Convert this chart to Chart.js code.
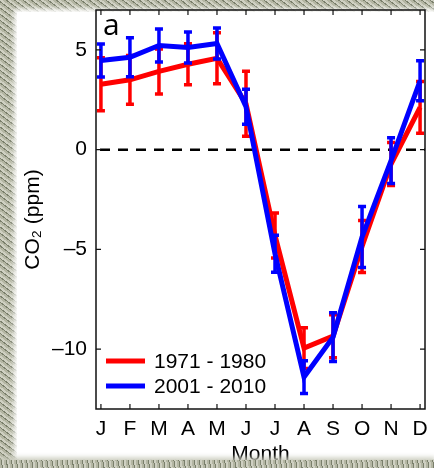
<!DOCTYPE html>
<html>
<head>
<meta charset="utf-8">
<script src="https://cdn.jsdelivr.net/npm/chart.js@4"></script>
<style>
  html, body { margin: 0; padding: 0; }
  body { background: #8e9180; }
  #wrap { position: relative; width: 434px; height: 468px; overflow: hidden;
    background: repeating-linear-gradient(37deg, #b4b6a3 0 2px, #7a7f6b 2px 3px, #cfd0c2 3px 5px); }
  #paper { position: absolute; left: 17px; top: 12px; right: 0; bottom: 9px; background: #fff;
    box-shadow: 0 0 5px 3px #fff; }
  #chart { position: absolute; left: 0; top: 0; }
  #edge { position: absolute; left: 0; right: 0; top: 460px; height: 8px;
    background: repeating-linear-gradient(80deg, #b4b6a3 0 2px, #7a7f6b 2px 3px, #cfd0c2 3px 5px);
    box-shadow: 0 -2px 4px 1px rgba(200,202,188,.8); }
</style>
</head>
<body>
<div id="wrap">
  <div id="paper"></div>
  <canvas id="chart" width="434" height="468"></canvas>
  <div id="edge"></div>
</div>
<script>
const months = ["J", "F", "M", "A", "M", "J", "J", "A", "S", "O", "N", "D"];
const yTicks = [5, 0, -5, -10];

const co2_1971 = [3.28, 3.5, 3.92, 4.28, 4.58, 2.3, -4.3, -9.95, -9.35, -4.85, -0.72, 2.12];
const err_1971 = [1.4, 1.3, 1.2, 1.1, 1.35, 1.7, 1.2, 1.1, 1.15, 1.38, 1.15, 1.37];
const co2_2001 = [4.47, 4.63, 5.22, 5.12, 5.32, 2.15, -5.22, -11.4, -9.4, -4.38, -0.55, 3.45];
const err_2001 = [0.9, 1.05, 0.9, 0.85, 0.85, 0.95, 1.0, 0.9, 1.3, 1.6, 1.22, 1.08];

const FONT = "'Liberation Sans', Arial, sans-serif";

const toPoints = (vals) => vals.map((v, i) => ({ x: i + 1, y: v }));

// error bars drawn with the dataset they belong to
const errorBars = {
    id: "errorBars",
    afterDatasetDraw(chart, args) {
        const ds = chart.data.datasets[args.index];
        const y = chart.scales.y;
        const ctx = chart.ctx;
        ctx.save();
        ctx.strokeStyle = ds.borderColor;
        ctx.lineWidth = 3.5;
        args.meta.data.forEach((pt, i) => {
            const v = ds.data[i].y, e = ds.errors[i];
            const top = y.getPixelForValue(v + e);
            const bot = y.getPixelForValue(v - e);
            ctx.beginPath();
            ctx.moveTo(pt.x, top);
            ctx.lineTo(pt.x, bot);
            ctx.moveTo(pt.x - 4, top + 1.5);
            ctx.lineTo(pt.x + 4, top + 1.5);
            ctx.moveTo(pt.x - 4, bot - 1.5);
            ctx.lineTo(pt.x + 4, bot - 1.5);
            ctx.stroke();
        });
        ctx.restore();
    },
};

// zero line, axes box with inward ticks, panel letter, y title and legend
const frame = {
    id: "frame",
    beforeDatasetsDraw(chart) {
        const { ctx, chartArea: a, scales: { y } } = chart;
        const y0 = y.getPixelForValue(0);
        ctx.save();
        ctx.strokeStyle = "#000";
        ctx.lineWidth = 2.5;
        ctx.setLineDash([10, 8]);
        ctx.beginPath();
        ctx.moveTo(a.left + 4, y0);
        ctx.lineTo(a.right, y0);
        ctx.stroke();
        ctx.restore();
    },
    afterDraw(chart) {
        const { ctx, chartArea: a, scales: { x, y } } = chart;
        ctx.save();
        ctx.strokeStyle = "#111";
        ctx.lineWidth = 1.5;
        ctx.strokeRect(a.left, a.top, a.right - a.left, a.bottom - a.top);
        ctx.lineWidth = 1.2;
        ctx.beginPath();
        x.ticks.forEach((t) => {
            const px = x.getPixelForValue(t.value);
            ctx.moveTo(px, a.bottom);
            ctx.lineTo(px, a.bottom - 5);
            ctx.moveTo(px, a.top);
            ctx.lineTo(px, a.top + 5);
        });
        y.ticks.forEach((t) => {
            const py = y.getPixelForValue(t.value);
            ctx.moveTo(a.left, py);
            ctx.lineTo(a.left + 5, py);
            ctx.moveTo(a.right, py);
            ctx.lineTo(a.right - 5, py);
        });
        ctx.stroke();

        ctx.fillStyle = "#000";
        ctx.font = "30px 'Open Sans', sans-serif";
        ctx.textBaseline = "alphabetic";
        ctx.fillText("a", a.left + 7, a.top + 25);

        // y title, MATLAB puts it a bit below the axis centre
        ctx.save();
        ctx.translate(33, (a.top + a.bottom) / 2 + 10);
        ctx.rotate(-Math.PI / 2);
        ctx.textAlign = "center";
        ctx.textBaseline = "middle";
        ctx.font = "21px " + FONT;
        ctx.fillText("CO\u2082 (ppm)", 0, 0);
        ctx.restore();

        ctx.font = "21px " + FONT;
        ctx.textBaseline = "middle";
        chart.data.datasets.forEach((ds, i) => {
            const ly = a.bottom - 48 + i * 25;
            ctx.strokeStyle = ds.borderColor;
            ctx.lineWidth = 5;
            ctx.beginPath();
            ctx.moveTo(a.left + 10, ly);
            ctx.lineTo(a.left + 49, ly);
            ctx.stroke();
            ctx.fillText(ds.label, a.left + 58, ly + 1);
        });
        ctx.restore();
    },
};

new Chart(document.getElementById("chart"), {
    type: "line",
    data: {
        datasets: [
            {
                label: "1971 - 1980",
                data: toPoints(co2_1971),
                errors: err_1971,
                borderColor: "#ff0000",
                borderWidth: 5,
                pointRadius: 0,
                tension: 0,
                order: 1,
            },
            {
                label: "2001 - 2010",
                data: toPoints(co2_2001),
                errors: err_2001,
                borderColor: "#0000ff",
                borderWidth: 5,
                pointRadius: 0,
                tension: 0,
                order: 0,
            },
        ],
    },
    options: {
        responsive: false,
        animation: false,
        layout: { padding: { top: 10, right: 9, left: 0, bottom: 0 } },
        plugins: {
            legend: { display: false },
            tooltip: { enabled: false },
        },
        scales: {
            x: {
                type: "linear",
                min: 0.83,
                max: 12.17,
                grid: { display: false, drawTicks: false },
                border: { display: false },
                afterBuildTicks: (s) => { s.ticks = months.map((m, i) => ({ value: i + 1 })); },
                afterFit: (s) => {
                    s.height = 59;
                    s.paddingLeft = 0;
                    s.paddingRight = 0;
                },
                ticks: {
                    color: "#000",
                    padding: 8,
                    maxRotation: 0,
                    autoSkip: false,
                    font: { family: FONT, size: 21 },
                    callback: (v) => months[v - 1],
                },
                title: {
                    display: true,
                    text: "Month",
                    color: "#000",
                    font: { family: FONT, size: 21 },
                    padding: { top: 0, bottom: 1 },
                },
            },
            y: {
                min: -13,
                max: 7,
                grid: { display: false, drawTicks: false },
                border: { display: false },
                afterBuildTicks: (s) => { s.ticks = yTicks.map((v) => ({ value: v })); },
                afterFit: (s) => {
                    s.width = 96;
                    s.paddingTop = 0;
                    s.paddingBottom = 0;
                },
                ticks: {
                    color: "#000",
                    padding: 9,
                    font: { family: FONT, size: 21 },
                    callback: (v) => (v < 0 ? "\u2013" + Math.abs(v) : String(v)),
                },
            },
        },
    },
    plugins: [errorBars, frame],
});
</script>
</body>
</html>
